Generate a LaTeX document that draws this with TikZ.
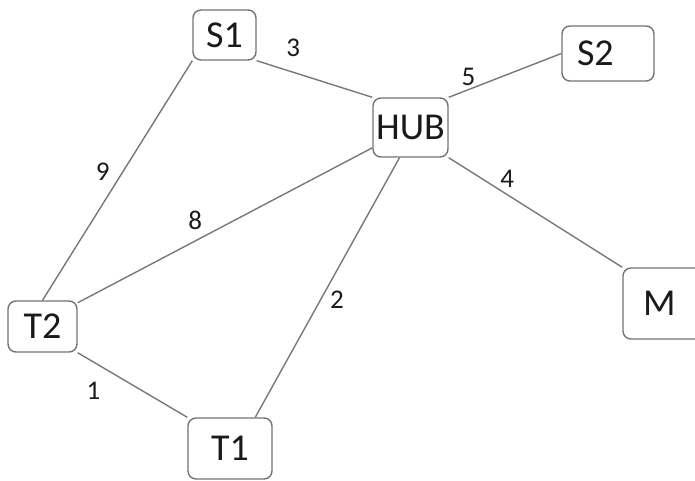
\documentclass[tikz,border=0pt]{standalone}
\usepackage{fontspec}
\setmainfont{Carlito}
\usepackage{tikz}

\definecolor{linegray}{RGB}{120,120,120}
\definecolor{boxgray}{RGB}{115,115,115}
\definecolor{ink}{RGB}{26,26,30}

\begin{document}
\begin{tikzpicture}[x=1pt, y=-1pt,
    box/.style={draw=boxgray, line width=1.4pt, rounded corners=8pt, inner sep=0pt,
      text=ink, font=\fontsize{38}{42}\selectfont},
    link/.style={draw=linegray, line width=1.4pt},
    lbl/.style={text=ink, inner sep=0pt, font=\fontsize{27}{30}\selectfont}]
    \clip (0, 0) rectangle (695, 481);
    %% stations
    \node[box, minimum width=63pt, minimum height=50pt] (S1) at (224.5, 35) {S1};
    \node[box, minimum width=75pt, minimum height=59pt] (HUB) at (410.5, 127.5) {HUB};
    \node[box, minimum height=55pt, text width=62pt, inner xsep=15pt, align=left] (S2) at (608, 53.5) {S2};
    \node[box, minimum height=71pt, text width=50pt, inner xsep=20pt, align=left] (M) at (668, 303.5) {M};
    \node[box, minimum width=69pt, minimum height=51pt] (T2) at (42.5, 326.5) {T2};
    \node[box, minimum width=84pt, minimum height=61pt] (T1) at (230, 448.5) {T1};
    %% links with their weights
    \draw[link] (S1.south east) -- node[lbl, pos=0.316, yshift=24pt] {3} (HUB.north west);
    \draw[link] (S1.south west) -- node[lbl, pos=0.465, xshift=-20pt] {9} (T2.north);
    \draw[link] (HUB.north east) -- node[lbl, pos=0.175, yshift=13pt] {5} (S2.west);
    \draw[link] (HUB.south east) -- node[lbl, pos=0.337, yshift=16pt] {4} (M.north west);
    \draw[link] (HUB.208) -- node[lbl, pos=0.601, yshift=21pt] {8} (T2.34);
    \draw[link] (HUB.250) -- node[lbl, pos=0.548, xshift=16.5pt] {2} (T1.51);
    \draw[link] (T2.south east) -- node[lbl, pos=0.144, yshift=-28.5pt] {1} (T1.north west);
\end{tikzpicture}
\end{document}
